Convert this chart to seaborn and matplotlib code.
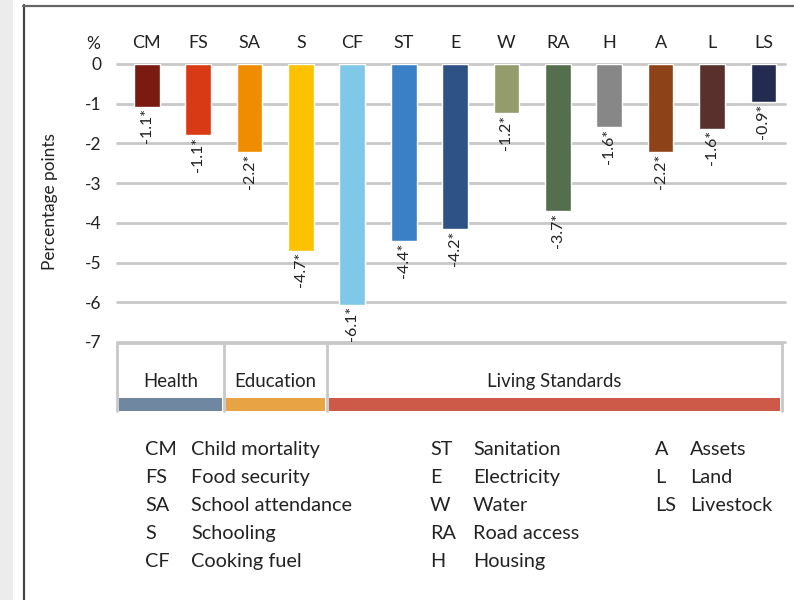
import numpy as np
import pandas as pd
import matplotlib
matplotlib.use("Agg")
import matplotlib.pyplot as plt
from matplotlib.patches import Rectangle
from matplotlib.lines import Line2D
import seaborn as sns

# datos
cats = ["CM", "FS", "SA", "S", "CF", "ST", "E", "W", "RA", "H", "A", "L", "LS"]
vals = [-1.08, -1.79, -2.21, -4.70, -6.06, -4.46, -4.16, -1.24, -3.70, -1.59, -2.21, -1.63, -0.95]
etiquetas = ["-1.1*", "-1.1*", "-2.2*", "-4.7*", "-6.1*", "-4.4*", "-4.2*",
             "-1.2*", "-3.7*", "-1.6*", "-2.2*", "-1.6*", "-0.9*"]
colores = ["#7b1a10", "#d93a16", "#ef8c00", "#fcc200", "#7fc8e8", "#3a80c6", "#2f5286",
           "#949c6c", "#546e4e", "#878787", "#8d4217", "#5a302c", "#232b50"]
yticks = [0, -1, -2, -3, -4, -5, -6, -7]

grupos = ["Health", "Education", "Living Standards"]
grupo_col = ["#6f87a0", "#e8a444", "#cd5a48"]

leyenda = [
    [("CM", "Child mortality"), ("FS", "Food security"), ("SA", "School attendance"),
     ("S", "Schooling"), ("CF", "Cooking fuel")],
    [("ST", "Sanitation"), ("E", "Electricity"), ("W", "Water"),
     ("RA", "Road access"), ("H", "Housing")],
    [("A", "Assets"), ("L", "Land"), ("LS", "Livestock")],
]

sns.set_style("white")
plt.rcParams["font.family"] = ["Lato", "DejaVu Sans"]
txt = "#222222"
grid_c = "#c8c8c8"

W, H = 794, 600
fig = plt.figure(figsize=(W / 100, H / 100), dpi=100)

def fx(px): return px / W
def fy(py): return 1 - py / H

xlim = (-0.58, 12.42)
ax = fig.add_axes([fx(117), fy(342), fx(785) - fx(117), fy(64) - fy(342)])
df = pd.DataFrame({"cat": cats, "val": vals})
sns.barplot(data=df, x="cat", y="val", hue="cat", palette=colores, width=0.5,
            saturation=1, legend=False, ax=ax, zorder=3)
ax.set_xlim(*xlim)
ax.set_ylim(-7, 0)
for v in yticks:
    ax.axhline(v, color=grid_c, lw=2, zorder=1, clip_on=False)
ax.set_yticks(yticks)
ax.set_yticklabels([str(v) for v in yticks], fontsize=12.5, color=txt)
ax.tick_params(axis="y", length=0, pad=11)
ax.xaxis.tick_top()
ax.tick_params(axis="x", length=0, pad=9, labelsize=13, labelcolor=txt)
ax.set_xlabel("")
ax.set_ylabel("")
for s in ax.spines.values():
    s.set_visible(False)

for i, (v, t) in enumerate(zip(vals, etiquetas)):
    ax.text(i, v - 0.04, t, rotation=90, ha="center", va="top", fontsize=11.5, color=txt)

fig.text(fx(93), fy(44), "%", ha="center", va="center", fontsize=12.5, color=txt)
fig.text(fx(50), fy(202), "Percentage points", rotation=90, ha="center", va="center",
         fontsize=12.4, color=txt)

# caja de grupos
bx = fig.add_axes([fx(117), fy(411), fx(785) - fx(117), fy(343) - fy(411)])
bx.set_xlim(*xlim)
bx.set_ylim(0, 1)
bx.axis("off")
bordes = [-0.58, 1.5, 3.5, 12.37]
for i, (g, c) in enumerate(zip(grupos, grupo_col)):
    x0, x1 = bordes[i], bordes[i + 1]
    bx.add_patch(Rectangle((x0 + 0.04, 0), x1 - x0 - 0.08, 0.19, color=c, lw=0))
    bx.text((x0 + x1) / 2, 0.36, g, ha="center", va="baseline", fontsize=13.4, color=txt)
for b in bordes:
    bx.add_line(Line2D([b, b], [0, 1], color=grid_c, lw=2, clip_on=False))
bx.add_line(Line2D([bordes[0], bordes[-1]], [1, 1], color=grid_c, lw=2, clip_on=False))

# leyenda de abreviaturas
cols_x = [(145, 191), (430, 473), (655, 690)]
for (xa, xn), filas in zip(cols_x, leyenda):
    for j, (a, n) in enumerate(filas):
        yy = fy(455 + j * 28)
        fig.text(fx(xa), yy, a, ha="left", va="baseline", fontsize=14.3, color=txt)
        fig.text(fx(xn), yy, n, ha="left", va="baseline", fontsize=14.3, color=txt)

# marco
fig.patches.append(Rectangle((0, 0), fx(13), 1, transform=fig.transFigure,
                             color="#ececec", lw=0))
fig.lines.append(Line2D([fx(23.5), fx(23.5)], [0, fy(5)], transform=fig.transFigure,
                        color="#444444", lw=1.6))
fig.lines.append(Line2D([fx(23), 1], [fy(5.5), fy(5.5)], transform=fig.transFigure,
                        color="#666666", lw=1.6))

fig.savefig("out.png", dpi=100)
